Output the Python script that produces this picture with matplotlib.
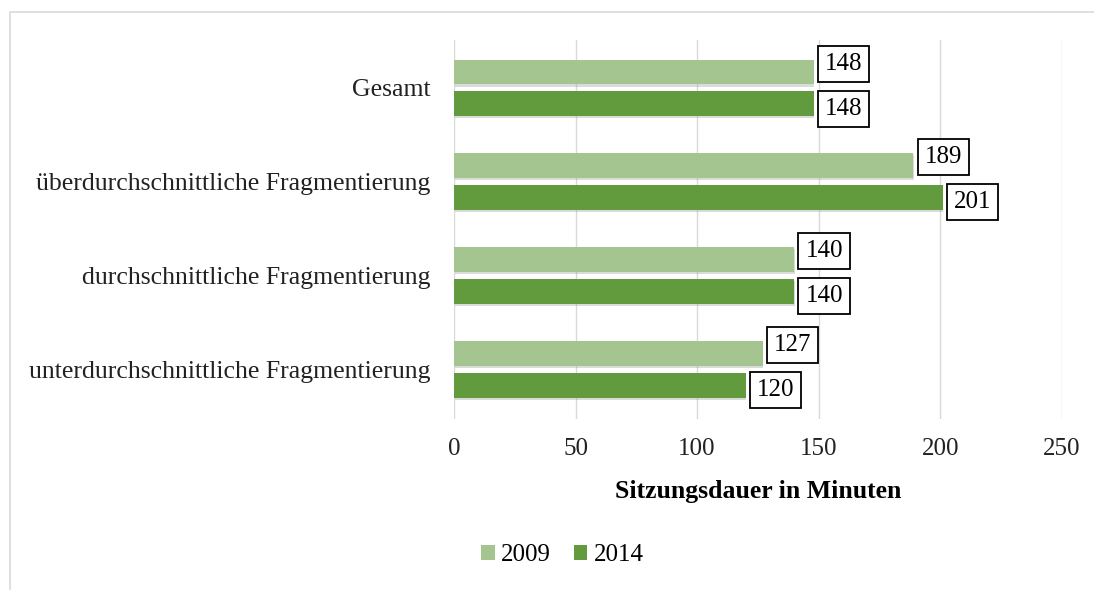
import matplotlib.pyplot as plt
import matplotlib.patheffects as pe
from matplotlib.patches import Rectangle

categories = ['unterdurchschnittliche Fragmentierung', 'durchschnittliche Fragmentierung',
              'überdurchschnittliche Fragmentierung', 'Gesamt']
vals_2009 = [127, 140, 189, 148]
vals_2014 = [120, 140, 201, 148]
years = ['2009', '2014']

c09 = '#a4c590'
c14 = '#629a3e'

plt.rcParams['font.family'] = ['Liberation Serif', 'DejaVu Serif']

fig = plt.figure(figsize=(10.94, 5.9), dpi=100)
ax = fig.add_axes([0.415, 0.29, 0.5555, 0.642])

y = list(range(len(categories)))
h = 0.266
off = 0.17
y09 = [v + off for v in y]
y14 = [v - off for v in y]
b1 = ax.barh(y09, vals_2009, height=h, color=c09, label=years[0], zorder=3)
b2 = ax.barh(y14, vals_2014, height=h, color=c14, label=years[1], zorder=3)

box = dict(boxstyle='square,pad=0.28', fc='white', ec='black', lw=1.3)
for yy, v in zip(y09, vals_2009):
    ax.annotate(str(v), (v, yy), xytext=(8, 6), textcoords='offset points',
                ha='left', va='center', fontsize=18, bbox=box, zorder=5)
for yy, v in zip(y14, vals_2014):
    ax.annotate(str(v), (v, yy), xytext=(8, -3.5), textcoords='offset points',
                ha='left', va='center', fontsize=18, bbox=box, zorder=5)

ax.set_xlim(0, 250)
ax.set_ylim(-0.53, 3.51)
ax.set_xticks([0, 50, 100, 150, 200, 250])
ax.set_yticks(y)
ax.set_yticklabels(categories)
ax.tick_params(length=0, labelsize=18, colors='#222222')
ax.tick_params(axis='y', labelsize=18.5, pad=17)
ax.tick_params(axis='x', pad=14)
ax.grid(axis='x', color='#d9d9d9', lw=1, zorder=0)
for s in ax.spines.values():
    s.set_visible(False)
ax.set_xlabel('Sitzungsdauer in Minuten', fontsize=18.5, fontweight='bold', labelpad=14)

ax.legend(loc='center', bbox_to_anchor=(0.514, 0.059), bbox_transform=fig.transFigure,
          ncol=2, frameon=False, fontsize=18, handlelength=0.55, handleheight=0.55,
          handletextpad=0.25, columnspacing=0.9)

# leichter Schatten unter den Balken
shadow = [pe.SimplePatchShadow(offset=(0.5, -1.5), shadow_rgbFace='#999999', alpha=0.35), pe.Normal()]
for p in list(b1) + list(b2):
    p.set_path_effects(shadow)

fig.patches.append(Rectangle((10 / 1094, -0.1), 1.2, 1 - 12 / 590 + 0.1, transform=fig.transFigure,
                             fill=False, ec='#d9d9d9', lw=1.2))

fig.savefig('out.png', dpi=100)
